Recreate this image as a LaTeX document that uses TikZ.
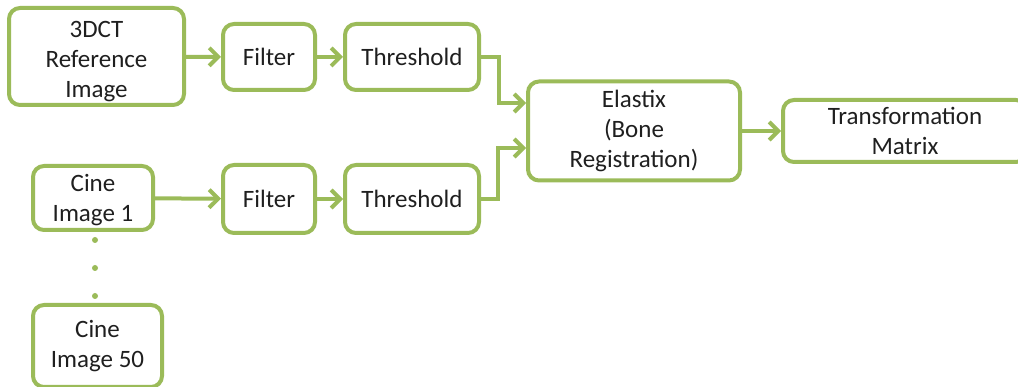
\documentclass[tikz,border=0pt]{standalone}
\usepackage{fontspec}
\setmainfont{Carlito}
\usetikzlibrary{arrows.meta}
\definecolor{boxgreen}{HTML}{9BBB59}
\definecolor{ink}{HTML}{1F1F1F}
\tikzset{
  stage/.style={draw=boxgreen, line width=4pt, rounded corners=11pt, inner sep=0pt,
    align=center, text=ink, font=\fontsize{25}{30}\selectfont},
  flow/.style={draw=boxgreen, line width=4pt,
    -{Straight Barb[length=9pt,width=18pt,line width=4pt]}},
  dotmark/.style={circle, fill=boxgreen, inner sep=0pt, minimum size=6pt}
}
\begin{document}
\begin{tikzpicture}[x=1pt,y=-1pt]
\useasboundingbox (0,0) rectangle (1018,387);
% upper row: reference volume
\node[stage, minimum width=175pt, minimum height=97pt] (ref) at (96.5,56.5) {\rule{0pt}{26pt}3DCT\\Reference\\Image};
\node[stage, minimum width=92pt, minimum height=66pt] (f1) at (269,57) {Filter};
\node[stage, minimum width=134pt, minimum height=66pt] (t1) at (412,57) {Threshold};
% lower row: cine frames
\node[stage, minimum width=120pt, minimum height=64pt] (c1) at (93,198) {\rule{0pt}{21pt}Cine\\Image 1};
\node[stage, minimum width=92pt, minimum height=68pt] (f2) at (269,199) {Filter};
\node[stage, minimum width=134pt, minimum height=68pt] (t2) at (412,199) {Threshold};
\node[stage, minimum width=129pt, minimum height=82pt] (c50) at (97.5,346) {Cine\\Image 50};
% registration and result
\node[stage, minimum width=212pt, minimum height=99pt] (el) at (634,131) {Elastix\\(Bone\\Registration)};
\node[stage, minimum width=244pt, minimum height=62pt] (tm) at (905,131) {Transformation\\Matrix};
% ellipsis between frames
\node[dotmark] (d1) at (95,240) {};
\node[dotmark] (d2) at (95,268) {};
\node[dotmark] (d3) at (95,296) {};
% connectors
\draw[flow] (ref) -- (f1);
\draw[flow] (f1) -- (t1);
\draw[flow] (c1) -- (f2);
\draw[flow] (f2) -- (t2);
\draw[flow] (t1.east) -| ([xshift=-27pt,yshift=28pt]el.west) -- ([yshift=28pt]el.west);
\draw[flow] (t2.east) -| ([xshift=-28pt,yshift=-17pt]el.west) -- ([yshift=-17pt]el.west);
\draw[flow] (el) -- (tm);
\end{tikzpicture}
\end{document}
